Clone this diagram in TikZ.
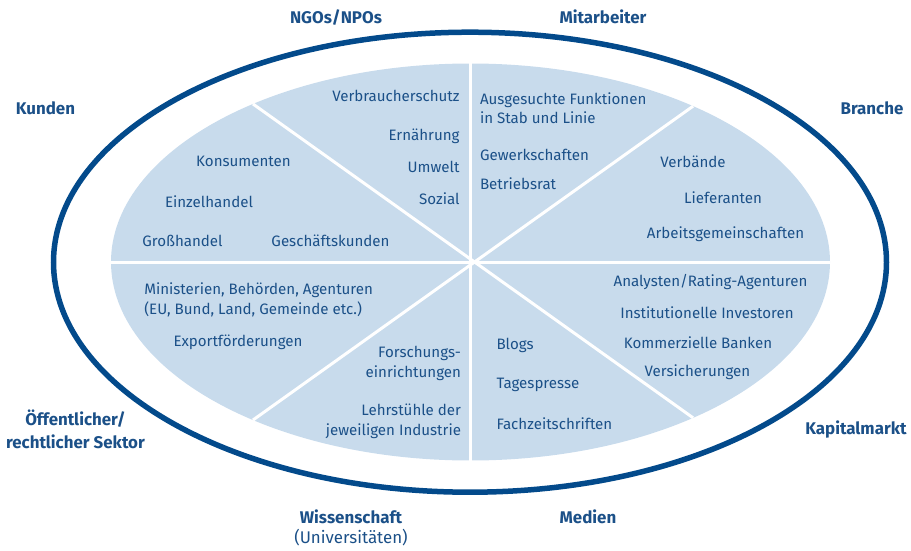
\documentclass[tikz,border=0pt]{standalone}
\usepackage{fontspec}
\setmainfont{Fira Sans}
\usetikzlibrary{shapes.geometric}
\definecolor{txtblue}{HTML}{1B5088}
\definecolor{ringblue}{HTML}{034A8B}
\definecolor{fillblue}{HTML}{C8DBEC}
\tikzset{
  item/.style={text=txtblue, font=\fontsize{15.1}{20}\selectfont, inner sep=0pt, outer sep=0pt},
  group/.style={text=txtblue, font=\fontsize{16.9}{23}\selectfont\bfseries, inner sep=0pt, outer sep=0pt},
  divider/.style={draw=white, line width=3pt}
}
\begin{document}
\begin{tikzpicture}[x=1pt,y=-1pt]
\useasboundingbox (0,0) rectangle (911,551);
% outer ring
\node[ellipse, draw=ringblue, line width=5.5pt, minimum width=833pt, minimum height=460pt, inner sep=0pt] (outer) at (470,262.2) {};
% inner filled ellipse
\node[ellipse, fill=fillblue, minimum width=719pt, minimum height=397pt, inner sep=0pt, outer sep=0pt] (inner) at (470.5,262) {};
% dividers
\draw[divider] (inner.180) -- (inner.0);
\draw[divider] (inner.90) -- (inner.270);
\draw[divider] (inner.144.5) -- (inner.-35.5);
\draw[divider] (inner.35.5) -- (inner.-144.5);
% group labels
\node[group, anchor=base] (ngo) at (336,24) {NGOs/NPOs};
\node[group, anchor=base] (mit) at (603,24) {Mitarbeiter};
\node[group, anchor=base] (kun) at (45.5,114) {Kunden};
\node[group, anchor=base] (bra) at (872,114) {Branche};
\node[group, anchor=base, align=center] (oef) at (75.5,448) {Öffentlicher/\\rechtlicher Sektor};
\node[group, anchor=base, align=center] (wis) at (351,543.5) {Wissenschaft\\[-3pt]{\mdseries(Universitäten)}};
\node[group, anchor=base] (med) at (588,523) {Medien};
\node[group, anchor=base] (kap) at (856,434) {Kapitalmarkt};
% Kunden sector
\node[item, anchor=base] (k1) at (243.5,166.7) {Konsumenten};
\node[item, anchor=base] (k2) at (209,207.5) {Einzelhandel};
\node[item, anchor=base] (k3) at (182.5,246.7) {Großhandel};
\node[item, anchor=base] (k4) at (330.5,246.7) {Geschäftskunden};
% NGO sector
\node[item, anchor=base east] (n1) at (459.5,101.7) {Verbraucherschutz};
\node[item, anchor=base east] (n2) at (459.5,140) {Ernährung};
\node[item, anchor=base east] (n3) at (459.5,172.7) {Umwelt};
\node[item, anchor=base east] (n4) at (459.5,204) {Sozial};
% Mitarbeiter sector
\node[item, anchor=base west, align=left] (m1) at (480,124) {Ausgesuchte Funktionen\\in Stab und Linie};
\node[item, anchor=base west] (m2) at (480,160) {Gewerkschaften};
\node[item, anchor=base west] (m3) at (480,189.3) {Betriebsrat};
% Branche sector
\node[item, anchor=base] (b1) at (693,167.3) {Verbände};
\node[item, anchor=base] (b2) at (723,203.3) {Lieferanten};
\node[item, anchor=base] (b3) at (725.5,238.7) {Arbeitsgemeinschaften};
% Kapitalmarkt sector
\node[item, anchor=base] (c1) at (710.5,286.7) {Analysten/Rating-Agenturen};
\node[item, anchor=base] (c2) at (707,318.3) {Institutionelle Investoren};
\node[item, anchor=base] (c3) at (698,348.3) {Kommerzielle Banken};
\node[item, anchor=base] (c4) at (697.5,376.7) {Versicherungen};
% Medien sector
\node[item, anchor=base west] (e1) at (496.5,349.3) {Blogs};
\node[item, anchor=base west] (e2) at (496.5,388.3) {Tagespresse};
\node[item, anchor=base west] (e3) at (496.5,429.3) {Fachzeitschriften};
% Wissenschaft sector
\node[item, anchor=base east, align=right] (w1) at (461,377.3) {Forschungs-\\einrichtungen};
\node[item, anchor=base east, align=right] (w2) at (461,435) {Lehrstühle der\\jeweiligen Industrie};
% Oeffentlicher sector
\node[item, anchor=base west, align=left] (o1) at (144.3,314) {Ministerien, Behörden, Agenturen\\(EU, Bund, Land, Gemeinde etc.)};
\node[item, anchor=base] (o2) at (238,346) {Exportförderungen};
\end{tikzpicture}
\end{document}
